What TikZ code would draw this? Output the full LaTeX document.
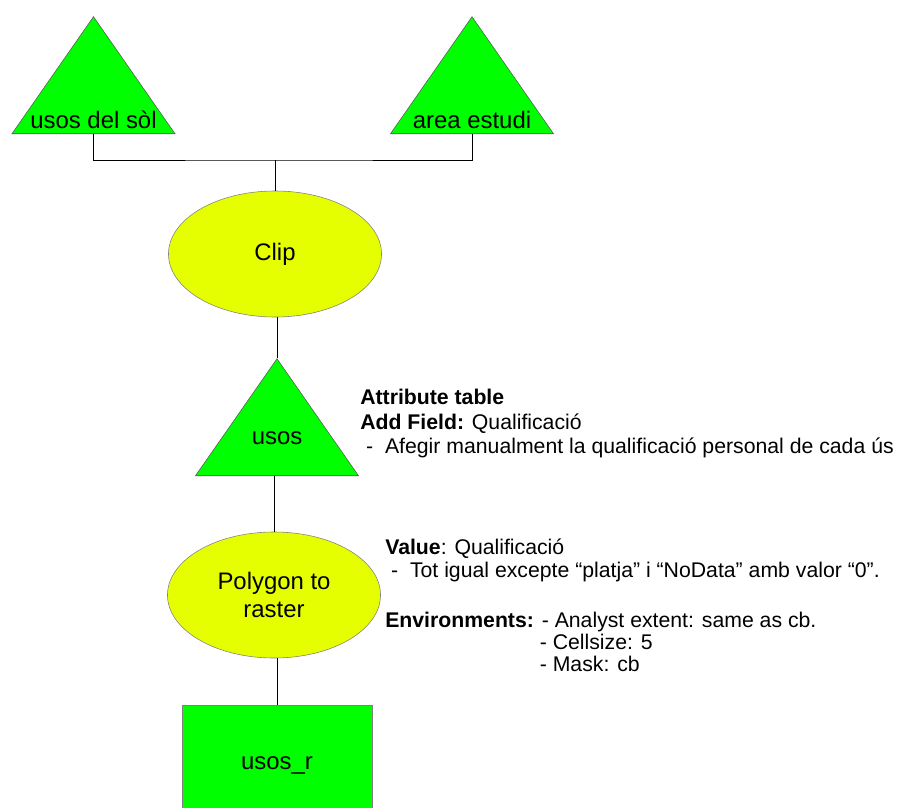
\documentclass[tikz,border=0pt]{standalone}
\usepackage{fontspec}
\setmainfont{Liberation Sans}
\usetikzlibrary{shapes.geometric}
\definecolor{layergreen}{RGB}{0,255,0}
\definecolor{toolyellow}{RGB}{230,255,0}
\tikzset{
x=0.025cm, y=-0.025cm, % one unit is one pixel of the sketch
layer/.style={draw=gray!70!black, fill=layergreen, isosceles triangle, isosceles triangle stretches, shape border rotate=90, minimum width=4.075cm, minimum height=2.925cm, inner sep=0pt, anchor=apex}, % vector layers
lbl/.style={anchor=south, font=\fontsize{17}{20}\selectfont}, % text at the base of a layer
tool/.style={draw=gray, fill=toolyellow, ellipse, minimum width=5.325cm, minimum height=3.15cm, align=center, font=\fontsize{17}{20}\selectfont}, % geoprocessing tools
raster/.style={draw=gray, fill=layergreen, minimum width=4.75cm, minimum height=2.9cm, text depth=0pt, font=\fontsize{17}{20}\selectfont}, % raster layers
note/.style={anchor=north west, inner sep=0pt, align=left, font=\fontsize{15.1}{17.4}\selectfont}, % side notes
link/.style={line width=0.7pt}, % connectors
}
\begin{document}
\begin{tikzpicture}
        \useasboundingbox (0,0) rectangle (898,807);
        \node[layer, label={[lbl]south:usos del sòl}] at (93.5,16) (sol) {};
        \node[layer, label={[lbl]south:area estudi}] at (472,16) (estudi) {};
        \coordinate (join) at (275,160);
        \node[tool] at (275,254) (clip) {Clip};
        \node[layer, label={[lbl, yshift=19pt]south:usos}] at (277,358) (usos) {};
        \node[tool] at (274,595) (p2r) {Polygon to\\raster};
        \node[raster] at (277,763) (usosr) {usos\_r};
        \node[note] at (360,389) (attr) {\textbf{Attribute table}\\
            \textbf{Add Field:} Qualificació\\
            \ -\ \ Afegir manualment la qualificació personal de cada ús};
        \node[note, font=\fontsize{15.1}{15.8}\selectfont] at (385,539) (env) {\textbf{Value}: Qualificació\\
            \ -\ \ Tot igual excepte “platja” i “NoData” amb valor “0”.\\[20pt]
            \textbf{Environments:} - Analyst extent: same as cb.\\
            \hphantom{\textbf{Environments:}\ }- Cellsize: 5\\
            \hphantom{\textbf{Environments:}\ }- Mask: cb};
        \draw[link]
        (sol.south) |- (join) -| (estudi.south)
        (join) -- (clip.north)
        (clip.south -| usos.apex) -- (usos.apex)
        (usos.south -| p2r.north) -- (p2r.north)
        (p2r.south -| usosr.north) -- (usosr.north)
        ;
    \end{tikzpicture}
\end{document}
